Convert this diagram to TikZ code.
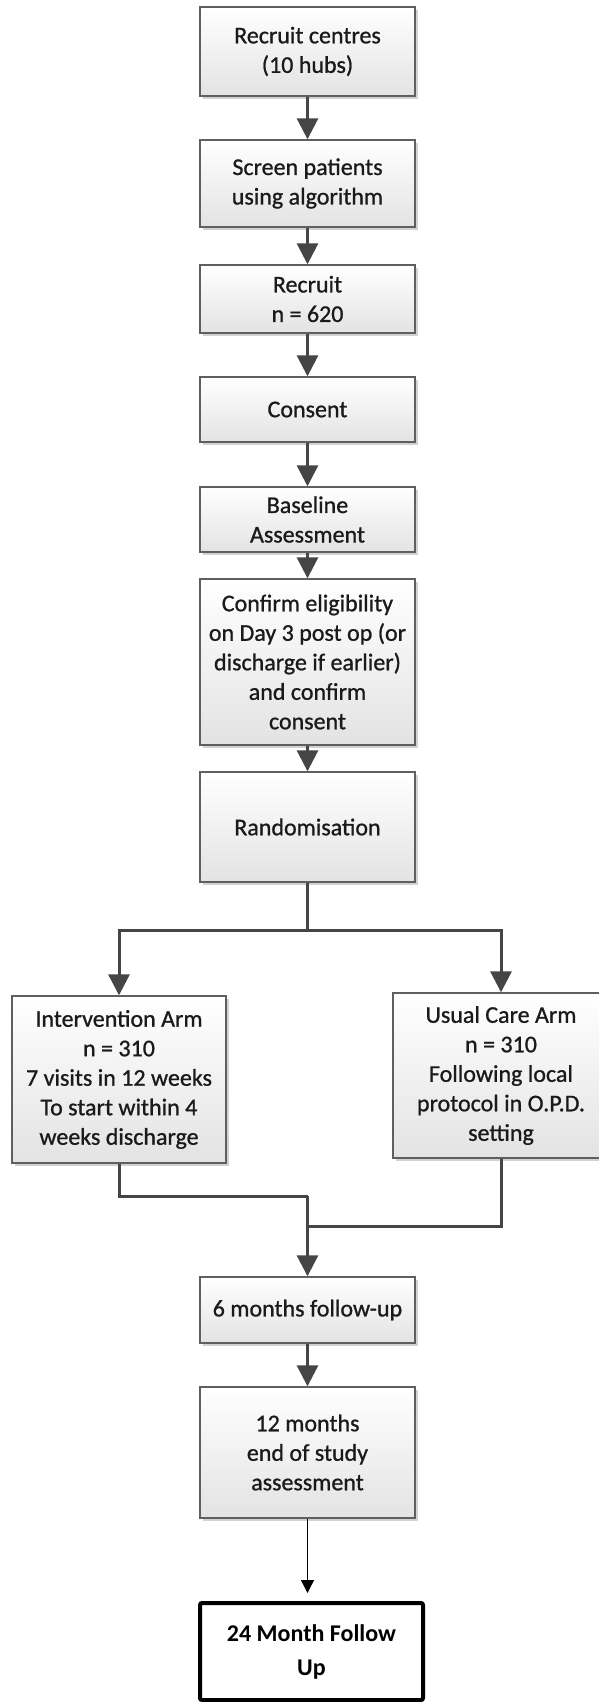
\documentclass[tikz,border=0pt]{standalone}
\usepackage{fontspec}
\setmainfont{Carlito}
\newfontfamily\boxfont[FakeBold=0.9]{Carlito}
\usetikzlibrary{arrows.meta,shadows}
\definecolor{arrgray}{HTML}{454545}
\definecolor{boxline}{HTML}{5F5F5F}
\definecolor{txt}{HTML}{1A1A1A}
\begin{document}
\begin{tikzpicture}[x=1pt,y=-1pt,
  box/.style={draw=boxline, line width=1.4pt, top color=white, bottom color=black!11,
    drop shadow={shadow xshift=3pt, shadow yshift=-3pt, fill=black!22, opacity=0.8},
    align=center, inner sep=0pt, text=txt, font=\boxfont\fontsize{24}{29.5}\selectfont,
    minimum width=215pt},
  lastbox/.style={draw=black, line width=4pt, rounded corners=2pt, fill=white,
    align=center, inner sep=0pt, text=black, font=\bfseries\fontsize{24}{34}\selectfont},
  arr/.style={draw=arrgray, line width=3pt, -{Triangle[length=21pt,width=21pt]}},
  conn/.style={draw=arrgray, line width=3pt},
  thinarr/.style={draw=black, line width=1.3pt, -{Triangle[length=13pt,width=13pt]}, shorten >=8pt},
  ]
\useasboundingbox (0,0) rectangle (599,1702);
\clip (0,0) rectangle (599,1702);

\node[box, minimum height=89pt] (n1) at (307.5,51.5) {Recruit centres\\(10 hubs)};
\node[box, minimum height=87pt] (n2) at (307.5,183.5) {Screen patients\\using algorithm};
\node[box, minimum height=68pt] (n3) at (307.5,299) {Recruit\\n = 620};
\node[box, minimum height=65pt] (n4) at (307.5,409.5) {Consent};
\node[box, minimum height=65pt] (n5) at (307.5,519.5) {Baseline\\Assessment};
\node[box, minimum height=166pt] (n6) at (307.5,662) {Confirm eligibility\\on Day 3 post op (or\\discharge if earlier)\\and confirm\\consent};
\node[box, minimum height=110pt] (n7) at (307.5,827) {Randomisation};
\node[box, minimum width=214pt, minimum height=167pt] (n8) at (119,1079.5) {Intervention Arm\\n = 310\\7 visits in 12 weeks\\To start within 4\\weeks discharge};
\node[box, minimum width=216pt, minimum height=165pt] (n9) at (501,1075.5) {Usual Care Arm\\n = 310\\Following local\\protocol in O.P.D.\\setting};
\node[box, minimum height=66pt] (n10) at (307.5,1310) {6 months follow-up};
\node[box, minimum height=131pt] (n11) at (307.5,1452.5) {12 months\\end of study\\assessment};
\node[lastbox, minimum width=223pt, minimum height=97pt] (n12) at (311.5,1651.5) {24 Month Follow\\Up};

\draw[arr] (n1) -- (n2);
\draw[arr] (n2) -- (n3);
\draw[arr] (n3) -- (n4);
\draw[arr] (n4) -- (n5);
\draw[arr] (n5) -- (n6);
\draw[arr] (n6) -- (n7);

\coordinate (b) at (307.5,930);
\draw[conn] (n7.south) -- (b);
\draw[arr] (b) -| (n8.north);
\draw[arr] (b) -| (n9.north);

\coordinate (m1) at (307.5,1196);
\coordinate (m2) at (307.5,1226);
\draw[conn] (n8.south) |- (m1);
\draw[conn] (n9.south) |- (m2);
\draw[arr] (m1) -- (n10.north);
\draw[arr] (n10) -- (n11);
\draw[thinarr] (n11.south) -- (n11.south |- n12.north);
\end{tikzpicture}
\end{document}
